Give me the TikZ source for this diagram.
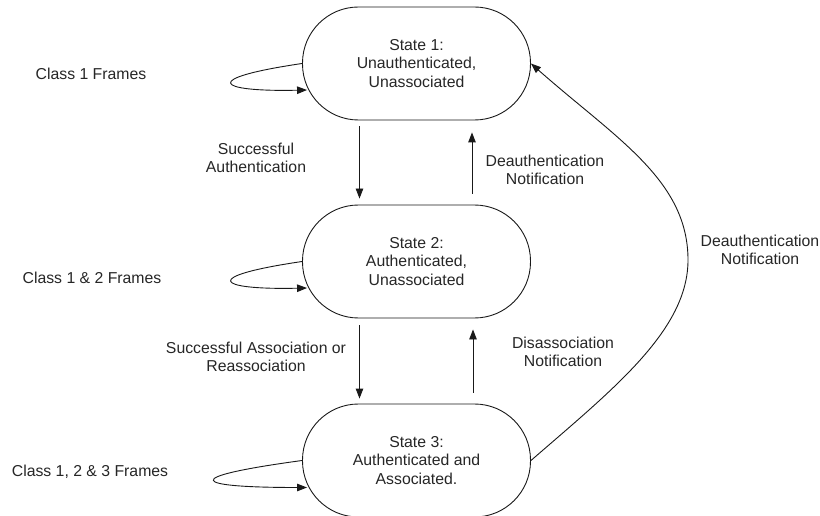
\documentclass[tikz,border=0pt]{standalone}
\usepackage{fontspec}
\setmainfont{Liberation Sans}
\usetikzlibrary{arrows.meta,calc}
\begin{document}
\begin{tikzpicture}[x=1pt,y=-1pt,
  every node/.style={font=\fontsize{15.8}{18.5}\selectfont, text=black!85, align=center, inner sep=0pt},
  statebox/.style={draw=black!90, line width=0.9pt, rounded corners=56pt,
    minimum width=228pt, minimum height=113pt},
  arr/.style={draw=black!90, line width=0.9pt, -{Triangle[length=10pt,width=7.5pt]}},
]
\useasboundingbox (0,0) rectangle (820,516);

% the three connection states
\node[statebox] (s1) at (416.5,63.5) {State 1:\\Unauthenticated,\\Unassociated};
\node[statebox] (s2) at (416.5,261.5) {State 2:\\Authenticated,\\Unassociated};
\node[statebox] (s3) at (416.5,460.5) {State 3:\\Authenticated and\\Associated.};

% permitted frame classes
\node (c1) at (91,74) {Class 1 Frames};
\node (c2) at (92,278) {Class 1 \& 2 Frames};
\node (c3) at (90,472) {Class 1, 2 \& 3 Frames};

% transition labels
\node (auth) at (256,158) {Successful\\Authentication};
\node (assoc) at (256,357) {Successful Association or\\Reassociation};
\node (deauthA) at (545,170) {Deauthentication\\Notification};
\node (disassoc) at (563,352) {Disassociation\\Notification};
\node (deauthB) at (760,250) {Deauthentication\\Notification};

% self loops
\draw[arr] (s1.west) .. controls +(-102,15) and +(-92,2) .. ($(s1.west)+(5,26.5)$);
\draw[arr] (s2.west) .. controls +(-102,15) and +(-92,2) .. ($(s2.west)+(5,26.5)$);
\draw[arr] (s3.west) .. controls +(-125,17) and +(-115,0) .. ($(s3.west)+(5,27)$);

% transitions between neighbouring states
\draw[arr] ([xshift=-57pt,yshift=-6pt]s1.south) -- ([xshift=-57pt,yshift=6pt]s2.north);
\draw[arr] ([xshift=55.5pt,yshift=11pt]s2.north) -- ([xshift=55.5pt,yshift=-12pt]s1.south);
\draw[arr] ([xshift=-57pt,yshift=-7pt]s2.south) -- ([xshift=-57pt,yshift=5pt]s3.north);
\draw[arr] ([xshift=56.5pt,yshift=11pt]s3.north) -- ([xshift=56.5pt,yshift=-11pt]s2.south);

% deauthentication straight back from state 3 to state 1
\coordinate (bend) at (688,260);
\draw[arr] (s3.east) .. controls +(83,-72) and +(0,70) .. (bend)
  .. controls +(0,-80) and +(85,75) .. (s1.east);
\end{tikzpicture}
\end{document}
